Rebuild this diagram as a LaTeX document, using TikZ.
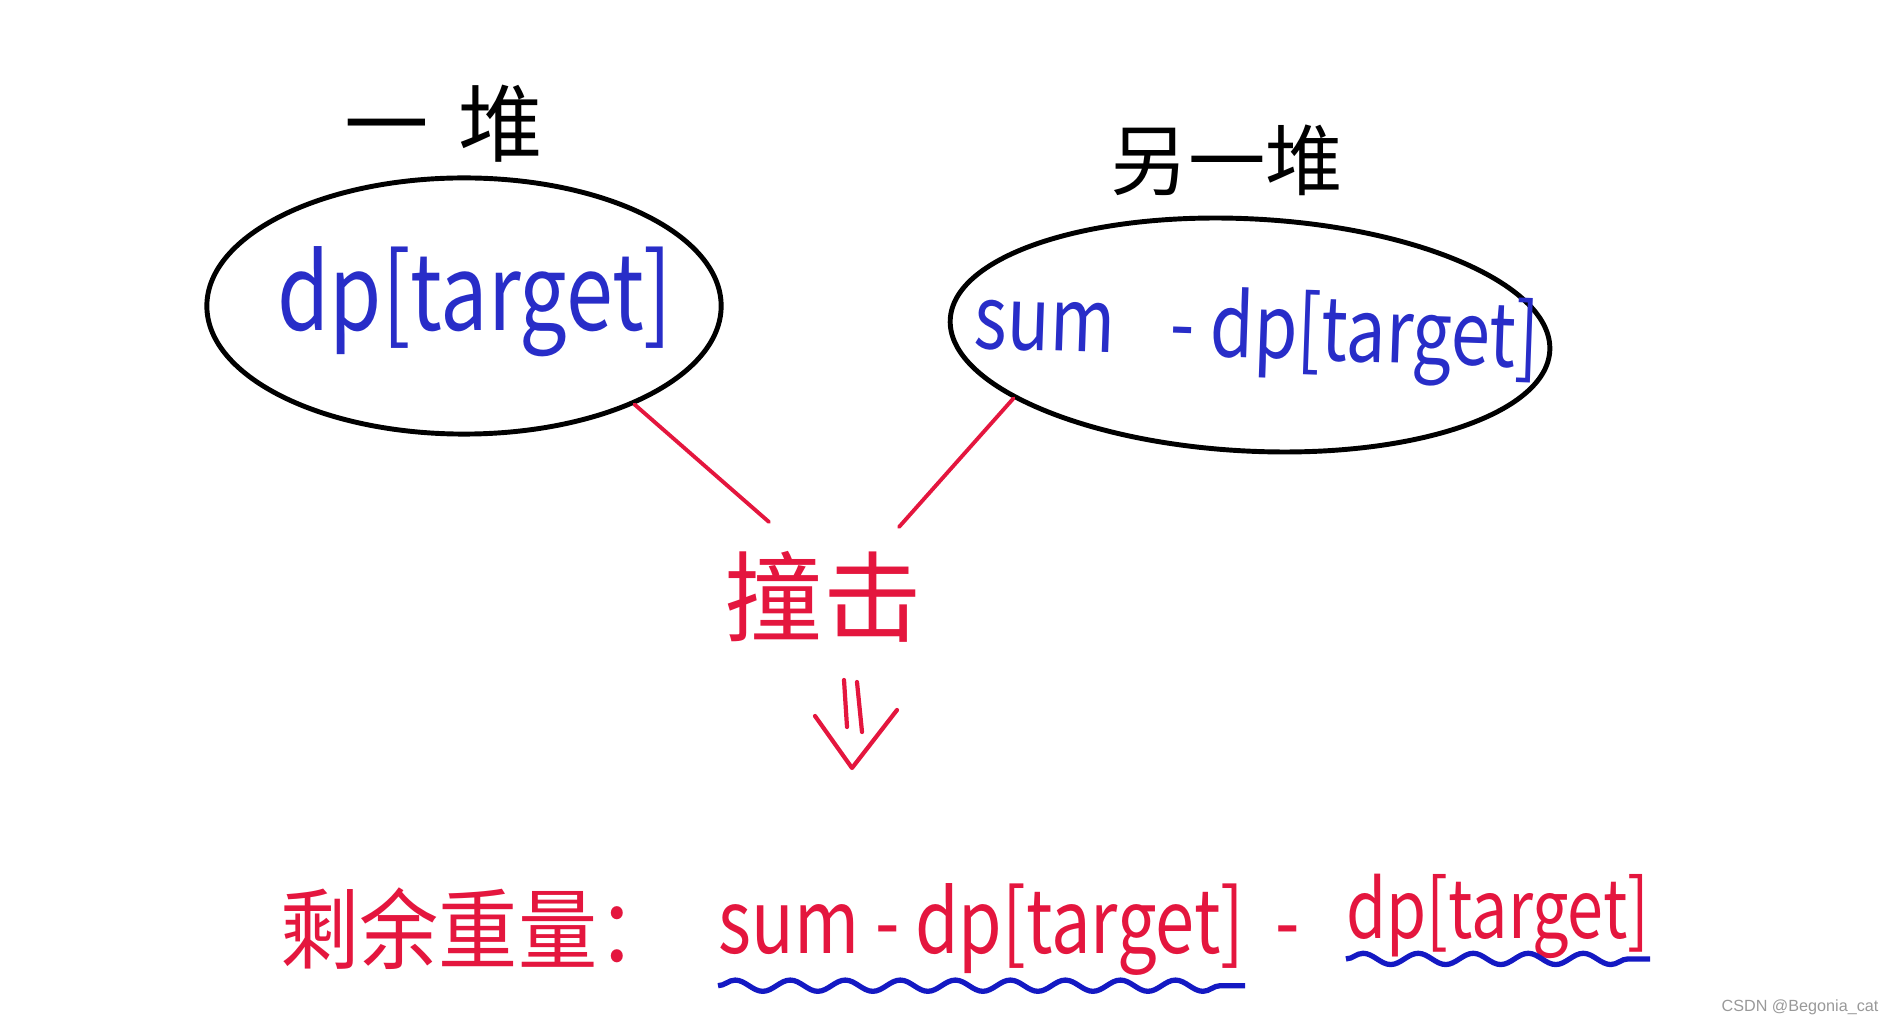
\documentclass[tikz,border=0pt]{standalone}
\usepackage{fontspec}
\setmainfont{Noto Sans CJK SC}
\newfontfamily\latn[FakeStretch=0.8]{Noto Sans CJK SC}
\newfontfamily\tallhan[FakeStretch=0.9]{Noto Sans CJK SC}
\newfontfamily\wmfont{Liberation Sans}
\usepackage{xcolor}
\usepackage{tikz}
\usetikzlibrary{positioning, shapes.geometric, decorations.pathmorphing}

\definecolor{penblue}{RGB}{40,45,200}
\definecolor{penred}{RGB}{228,22,62}
\definecolor{wavyblue}{RGB}{20,25,195}

\begin{document}
\begin{tikzpicture}[
    x=0.01cm, y=0.01cm,
    pile/.style={ellipse, draw, line width=1.4pt, inner sep=0pt},
    hanzi/.style={font=\fontsize{#1}{#1}\selectfont, inner sep=0pt},
    handblue/.style={font=\latn\fontsize{#1}{#1}\selectfont, text=penblue, inner sep=0pt},
    handred/.style={font=\latn\fontsize{#1}{#1}\selectfont, text=penred, inner sep=0pt},
    link/.style={draw=penred, line width=1.1pt, line cap=round},
    pen/.style={draw=penred, line width=1.2pt, line cap=round, line join=round},
    wavy/.style={draw=wavyblue, line width=1.5pt, decorate, decoration={snake, amplitude=1.6pt, segment length=0.55cm}}
]
\useasboundingbox (0,0) rectangle (1892,-1028);

% 两堆石头
\node[pile, minimum width=5.14cm, minimum height=2.56cm] (lell) at (464,-306) {};
\node[pile, minimum width=6cm, minimum height=2.32cm, rotate=-3] (rell) at (1250,-335) {};
\node[handblue=30] (ltxt) at (475,-302) {dp[target]};
\node[handblue=25, rotate=-2] (rtxt) at (1257,-334) {sum\hspace{0.55cm}- dp[target]};

% 标题
\node[hanzi=24] (ltitle) at (444,-124) {一\hspace{0.3cm}堆};
\node[hanzi=22] (rtitle) at (1227,-160) {另一堆};

% 撞击
\node[hanzi=28, text=penred] (hit) at (823,-597) {撞击};
\coordinate (hitl) at (769,-522);
\coordinate (hitr) at (899,-527);
\draw[link] (lell.-30) -- (hitl);
\draw[link] (rell.198) -- (hitr);

% 箭头
\draw[pen] (844,-680) -- (847,-727);
\draw[pen] (857,-682) -- (862,-732);
\draw[pen] (815,-716) -- (852,-768) -- (897,-710);

% 结果
\node[font=\tallhan\fontsize{25}{25}\selectfont, text=penred, inner sep=0pt, anchor=west] (rest) at (280,-929) {剩余重量：};
\node[handred=25, anchor=base west] (res1) at (718,-953) {sum - dp[target]};
\node[handred=25, base right=0.3cm of res1] (minus) {-};
\node[handred=23, base right=0.45cm of minus, yshift=0.15cm] (res2) {dp[target]};
\draw[wavy] ([yshift=-0.1cm]res1.south west) -- ([yshift=-0.1cm]res1.south east);
\draw[wavy] (res2.south west) -- (res2.south east);

% 水印
\node[font=\wmfont\fontsize{4.6}{5}\selectfont, text=gray!80] (wm) at (1800,-1007) {CSDN @Begonia\_cat};

\end{tikzpicture}
\end{document}
